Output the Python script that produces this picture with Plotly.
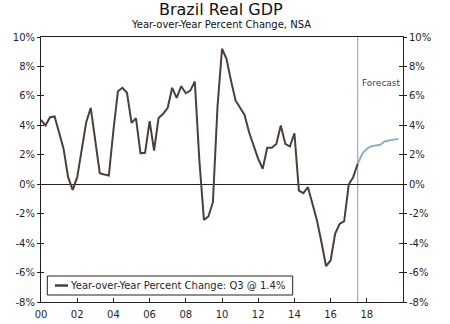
import plotly.graph_objects as go
import pandas as pd

# ---- data ----
actual_start = "2000-01-01"
actual_values = [
    4.37, 3.99, 4.55, 4.60,   # 2000
    3.50, 2.40, 0.48, -0.38,  # 2001
    0.48, 2.30, 4.20, 5.19,   # 2002
    2.97, 0.75, 0.66, 0.59,   # 2003
    3.65, 6.32, 6.55, 6.21,   # 2004
    4.17, 4.48, 2.10, 2.13,   # 2005
    4.28, 2.29, 4.50, 4.78,   # 2006
    5.19, 6.55, 5.87, 6.66,   # 2007
    6.18, 6.36, 6.98, 1.61,   # 2008
    -2.42, -2.19, -1.22, 5.23,  # 2009
    9.20, 8.52, 7.04, 5.69,   # 2010
    5.19, 4.71, 3.53, 2.63,   # 2011
    1.72, 1.05, 2.47, 2.47,   # 2012
    2.74, 3.99, 2.74, 2.56,   # 2013
    3.46, -0.43, -0.61, -0.20,  # 2014
    -1.33, -2.47, -3.94, -5.57,  # 2015
    -5.18, -3.37, -2.69, -2.51,  # 2016
    -0.02, 0.48, 1.39,        # 2017 Q1-Q3
]
forecast_start = "2017-07-01"
forecast_values = [1.39, 2.07, 2.40, 2.58, 2.63, 2.68, 2.92, 2.97, 3.02, 3.08]

y_ticks = [10, 8, 6, 4, 2, 0, -2, -4, -6, -8]
y_tick_labels = ["10%", "8%", "6%", "4%", "2%", "0%", "-2%", "-4%", "-6%", "-8%"]

title = "Brazil Real GDP"
subtitle = "Year-over-Year Percent Change, NSA"
legend_label = "Year-over-Year Percent Change: Q3 @ 1.4%"
forecast_label = "Forecast"

actual_dates = pd.date_range(actual_start, periods=len(actual_values), freq="QS")
forecast_dates = pd.date_range(forecast_start, periods=len(forecast_values), freq="QS")

FONT = "DejaVu Sans"
TXT = "#1f1f2e"
LINE_DARK = "#4a4037"
LINE_FC = "#8fafc6"

# plot area in pixels (for placing decorations)
L, R, T, B = 41, 403, 37, 302
def px(xp):
    return (xp - L) / (R - L)
def py(yp):
    return (B - yp) / (B - T)

fig = go.Figure()
fig.add_trace(go.Scatter(
    x=forecast_dates, y=forecast_values, mode="lines", name="Forecast",
    line=dict(color=LINE_FC, width=2), showlegend=False))
fig.add_trace(go.Scatter(
    x=actual_dates, y=actual_values, mode="lines", name=legend_label,
    line=dict(color=LINE_DARK, width=2), showlegend=False))

# helper traces so the overlay axes (right labels, crossing ticks) render
for ax in ["y2", "y3", "y4"]:
    fig.add_trace(go.Scatter(x=[actual_dates[0]], y=[0], yaxis=ax, mode="lines",
                             showlegend=False, hoverinfo="skip",
                             line=dict(width=0)))

yr = [-8, 10]
common_y = dict(range=yr, tickvals=y_ticks, showgrid=False, fixedrange=True,
                automargin=False)
tf = dict(family=FONT, size=10, color=TXT)

fig.update_layout(
    width=450, height=324,
    margin=dict(l=L, r=450 - R, t=T, b=324 - B, autoexpand=False),
    paper_bgcolor="white", plot_bgcolor="white",
    font=dict(family=FONT, size=10, color=TXT),
    showlegend=False,
    xaxis=dict(type="date", range=["2000-01-01", "2020-01-01"],
               tickvals=pd.date_range("2000-01-01", "2018-01-01", freq="2YS"),
               tickformat="%y", ticks="inside", ticklen=4, tickcolor="#222",
               showline=True, linecolor="#222", linewidth=1, mirror=True,
               showgrid=False, fixedrange=True, automargin=False, tickfont=tf,
               ticklabelstandoff=3),
    yaxis=dict(**common_y, ticktext=y_tick_labels, ticks="outside", ticklen=3,
               tickcolor="#222", showline=True, linecolor="#222", linewidth=1,
               zeroline=True, zerolinecolor="#222", zerolinewidth=1,
               tickfont=tf),
    yaxis2=dict(**common_y, ticktext=y_tick_labels, overlaying="y", side="right",
                ticks="outside", ticklen=3, tickcolor="#222", showline=True,
                linecolor="#222", linewidth=1, zeroline=False, tickfont=tf),
    yaxis3=dict(**common_y, overlaying="y", side="left", ticks="inside",
                ticklen=3, tickcolor="#222", showticklabels=False,
                showline=False, zeroline=False),
    yaxis4=dict(**common_y, overlaying="y", side="right", ticks="inside",
                ticklen=4, tickcolor="#222", showticklabels=False,
                showline=False, zeroline=False),
)

# forecast divider
fig.add_shape(type="line", xref="x", yref="paper",
              x0=forecast_dates[0], x1=forecast_dates[0], y0=0, y1=1,
              line=dict(color="#9a9a9a", width=1), layer="below")
fig.add_annotation(x=px(381), y=py(83), xref="paper", yref="paper",
                   xanchor="center", yanchor="middle",
                   text=forecast_label, showarrow=False,
                   font=dict(family=FONT, size=9, color="#3f4052"))

# legend box
fig.add_shape(type="rect", xref="paper", yref="paper",
              x0=px(47.3), x1=px(292.7), y0=py(295), y1=py(276),
              line=dict(color="#222", width=1), fillcolor="white", layer="above")
fig.add_shape(type="line", xref="paper", yref="paper",
              x0=px(55), x1=px(68), y0=py(285.5), y1=py(285.5),
              line=dict(color=LINE_DARK, width=2.5), layer="above")
fig.add_annotation(x=px(68), y=py(285.5), xref="paper", yref="paper",
                   xanchor="left", yanchor="middle", text=legend_label,
                   showarrow=False, font=tf)

# titles
fig.add_annotation(x=0.496, y=py(9.5), xref="paper", yref="paper",
                   xanchor="center", yanchor="middle",
                   text=title, showarrow=False,
                   font=dict(family=FONT, size=16, color="#111"))
fig.add_annotation(x=0.496, y=py(24.5), xref="paper", yref="paper",
                   xanchor="center", yanchor="middle",
                   text=subtitle, showarrow=False,
                   font=dict(family=FONT, size=10, color="#111"))

fig.write_html("out.html")
